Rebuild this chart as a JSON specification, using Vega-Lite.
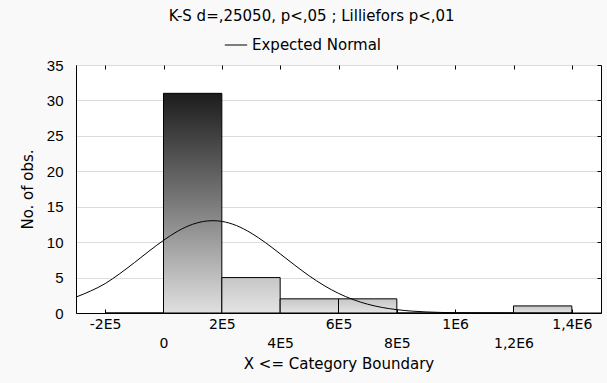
{
  "$schema": "https://vega.github.io/schema/vega-lite/v6.json",
  "width": 525,
  "height": 248,
  "autosize": {"type": "none"},
  "padding": {"left": 76, "top": 65, "right": 6, "bottom": 70},
  "background": "#f9f9f9",
  "title": {
    "text": "K-S d=,25050, p<,05 ; Lilliefors p<,01",
    "font": "DejaVu Sans",
    "fontSize": 15,
    "fontWeight": "normal",
    "color": "black",
    "anchor": "middle",
    "frame": "bounds",
    "offset": 9
  },
  "config": {
    "view": {"fill": "white", "stroke": "black", "strokeWidth": 1},
    "axis": {"domainColor": "black", "tickColor": "black", "labelColor": "black", "titleColor": "black"}
  },
  "datasets": {
    "bins": [
      {"lo": -200000, "hi": 0, "n": 0},
      {"lo": 0, "hi": 200000, "n": 31},
      {"lo": 200000, "hi": 400000, "n": 5},
      {"lo": 400000, "hi": 600000, "n": 2},
      {"lo": 600000, "hi": 800000, "n": 2},
      {"lo": 800000, "hi": 1000000, "n": 0},
      {"lo": 1000000, "hi": 1200000, "n": 0},
      {"lo": 1200000, "hi": 1400000, "n": 1}
    ],
    "curve": [
      {"x": -300000, "y": 2.25, "s": "Expected Normal"},
      {"x": -250000, "y": 3.1, "s": "Expected Normal"},
      {"x": -200000, "y": 4.15, "s": "Expected Normal"},
      {"x": -150000, "y": 5.55, "s": "Expected Normal"},
      {"x": -100000, "y": 7.1, "s": "Expected Normal"},
      {"x": -50000, "y": 8.72, "s": "Expected Normal"},
      {"x": 0, "y": 10.25, "s": "Expected Normal"},
      {"x": 50000, "y": 11.58, "s": "Expected Normal"},
      {"x": 100000, "y": 12.52, "s": "Expected Normal"},
      {"x": 150000, "y": 12.99, "s": "Expected Normal"},
      {"x": 170000, "y": 13.03, "s": "Expected Normal"},
      {"x": 200000, "y": 12.93, "s": "Expected Normal"},
      {"x": 250000, "y": 12.34, "s": "Expected Normal"},
      {"x": 300000, "y": 11.29, "s": "Expected Normal"},
      {"x": 350000, "y": 9.92, "s": "Expected Normal"},
      {"x": 400000, "y": 8.35, "s": "Expected Normal"},
      {"x": 450000, "y": 6.75, "s": "Expected Normal"},
      {"x": 500000, "y": 5.23, "s": "Expected Normal"},
      {"x": 550000, "y": 3.89, "s": "Expected Normal"},
      {"x": 600000, "y": 2.77, "s": "Expected Normal"},
      {"x": 650000, "y": 1.9, "s": "Expected Normal"},
      {"x": 700000, "y": 1.24, "s": "Expected Normal"},
      {"x": 750000, "y": 0.78, "s": "Expected Normal"},
      {"x": 800000, "y": 0.47, "s": "Expected Normal"},
      {"x": 850000, "y": 0.27, "s": "Expected Normal"},
      {"x": 900000, "y": 0.15, "s": "Expected Normal"},
      {"x": 950000, "y": 0.08, "s": "Expected Normal"},
      {"x": 1000000, "y": 0.04, "s": "Expected Normal"},
      {"x": 1100000, "y": 0.01, "s": "Expected Normal"},
      {"x": 1200000, "y": 0.002, "s": "Expected Normal"},
      {"x": 1300000, "y": 0, "s": "Expected Normal"},
      {"x": 1400000, "y": 0, "s": "Expected Normal"},
      {"x": 1500000, "y": 0, "s": "Expected Normal"}
    ]
  },
  "resolve": {"axis": {"x": "independent", "y": "independent"}},
  "layer": [
    {
      "data": {"name": "bins"},
      "transform": [{"filter": "datum.n > 10"}],
      "mark": {
        "type": "bar",
        "stroke": "black",
        "strokeWidth": 1,
        "fill": {
          "gradient": "linear",
          "x1": 0, "y1": 0, "x2": 0, "y2": 1,
          "stops": [
            {"offset": 0, "color": "#1c1c1c"},
            {"offset": 0.5, "color": "#7a7a7a"},
            {"offset": 1, "color": "#e0e0e0"}
          ]
        }
      },
      "encoding": {
        "x": {
          "field": "lo", "type": "quantitative",
          "scale": {"domain": [-300000, 1500000], "nice": false, "zero": false},
          "axis": {
            "orient": "bottom",
            "values": [-200000, 0, 200000, 400000, 600000, 800000, 1000000, 1200000, 1400000],
            "labelExpr": "(datum.value / 200000) % 2 == 0 ? [' ', (abs(datum.value) < 1000000 ? (datum.value == 0 ? '0' : (datum.value / 100000) + 'E5') : replace('' + (datum.value / 1000000), '.', ',') + 'E6')] : (abs(datum.value) < 1000000 ? (datum.value == 0 ? '0' : (datum.value / 100000) + 'E5') : replace('' + (datum.value / 1000000), '.', ',') + 'E6')",
            "labelFont": "DejaVu Sans",
            "labelFontSize": 14,
            "labelBaseline": "top",
            "labelLineHeight": 19,
            "labelPadding": 8,
            "labelOverlap": false,
            "labelFlush": false,
            "tickSize": -4,
            "grid": false,
            "title": "X <= Category Boundary",
            "titleFont": "DejaVu Sans",
            "titleFontSize": 15,
            "titleFontWeight": "normal",
            "titlePadding": 6
          }
        },
        "x2": {"field": "hi"},
        "y": {
          "field": "n", "type": "quantitative",
          "scale": {"domain": [0, 35], "nice": false},
          "axis": {
            "orient": "left",
            "values": [0, 5, 10, 15, 20, 25, 30, 35],
            "labelFont": "Liberation Sans",
            "labelFontSize": 15,
            "labelPadding": 13,
            "ticks": false,
            "grid": true,
            "gridColor": "#dcdcdc",
            "gridWidth": 1,
            "title": "No. of obs.",
            "titleFont": "DejaVu Sans",
            "titleFontSize": 15,
            "titleFontWeight": "normal",
            "titlePadding": 11
          }
        },
        "y2": {"datum": 0}
      }
    },
    {
      "data": {"name": "bins"},
      "transform": [{"filter": "datum.n <= 10"}],
      "mark": {
        "type": "bar",
        "stroke": "black",
        "strokeWidth": 1,
        "fill": {
          "gradient": "linear",
          "x1": 0, "y1": 0, "x2": 0, "y2": 1,
          "stops": [
            {"offset": 0, "color": "#c6c6c6"},
            {"offset": 1, "color": "#e4e4e4"}
          ]
        }
      },
      "encoding": {
        "x": {"field": "lo", "type": "quantitative", "axis": null},
        "x2": {"field": "hi"},
        "y": {"field": "n", "type": "quantitative", "axis": null},
        "y2": {"datum": 0}
      }
    },
    {
      "data": {"name": "curve"},
      "mark": {"type": "line", "strokeWidth": 1, "interpolate": "monotone"},
      "encoding": {
        "x": {
          "field": "x", "type": "quantitative",
          "axis": {
            "orient": "top",
            "values": [-200000, 0, 200000, 400000, 600000, 800000, 1000000, 1200000, 1400000],
            "labels": false, "domain": false, "grid": false, "tickSize": -4, "title": null
          }
        },
        "y": {
          "field": "y", "type": "quantitative",
          "axis": {
            "orient": "right",
            "values": [0, 5, 10, 15, 20, 25, 30, 35],
            "labels": false, "domain": false, "grid": false, "tickSize": -4, "title": null
          }
        },
        "color": {
          "field": "s", "type": "nominal",
          "scale": {"range": ["black"]},
          "legend": {
            "orient": "none",
            "legendX": 148,
            "legendY": -32,
            "title": null,
            "symbolType": "stroke",
            "symbolSize": 500,
            "symbolStrokeWidth": 1,
            "labelFont": "DejaVu Sans",
            "labelFontSize": 15,
            "labelColor": "black"
          }
        }
      }
    }
  ]
}
